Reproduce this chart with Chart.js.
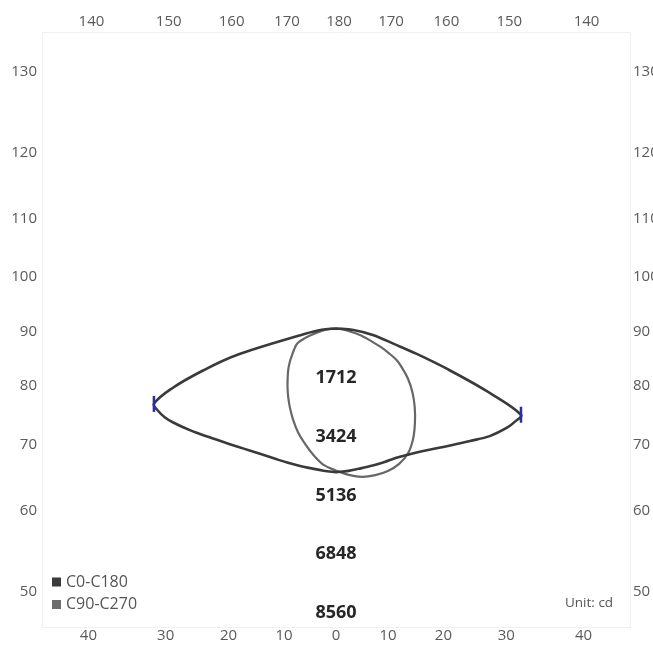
<!DOCTYPE html>
<html><head><meta charset="utf-8">
<script src="https://cdn.jsdelivr.net/npm/chart.js@4"></script>
<style>html,body{margin:0;padding:0;background:#fff}#wrap{width:653px;height:648px;position:relative}</style>
</head><body><div id="wrap"><canvas id="c"></canvas></div>
<script>
// Gamma angles (degrees from nadir) at which intensities are given
const gammaAngles = [0,5,10,15,20,25,30,35,40,45,50,55,60,62.5,65,67.5,70,72.5,75,80,85,90];
// Luminous intensity (cd) per C-plane half
const c0Values   = [4190,4165,4140,4135,4140,4160,4240,4370,4560,4800,5100,5470,5770,5880,5950,4720,3450,2468,1764,1090,510,0];
const c180Values = [4190,4160,4140,4145,4160,4190,4250,4350,4490,4670,4900,5180,5480,5620,5710,5745,5070,4050,3012,937,420,0];
const c90Values  = [4140,4283,4390,4425,4420,4355,4200,3920,3580,3245,2913,2565,2183,1990,1696,1408,1119,900,700,310,150,0];
const c270Values = [4140,4000,3750,3482,3228,2950,2680,2430,2200,1990,1810,1630,1460,1390,1320,1255,1146,965,783,450,220,0];
// Intensity ring labels (cd)
const intensityRings = [1712,3424,5136,6848,8560];
// Angle tick labels
const bottomAngles = [-40,-30,-20,-10,0,10,20,30,40];
const bottomLabels = ['40','30','20','10','0','10','20','30','40'];
const topLabels    = ['140','150','160','170','180','170','160','150','140'];
const sideAngles   = [130,120,110,100,90,80,70,60,50];
const sideLabels   = ['130','120','110','100','90','80','70','60','50'];
const seriesNames  = ['C0-C180','C90-C270'];
const unitLabel    = 'Unit: cd';

const RAD = Math.PI/180;
const X_MAX = 8570, Y_MAX = 8640, Y_MIN = -8700;
const D_TB = 8600, D_SIDE = 9030;

function halfCurve(values, sign, reverse){
  const pts = gammaAngles.map((g,i)=>({x: sign*values[i]*Math.sin(g*RAD), y: -values[i]*Math.cos(g*RAD)}));
  return reverse ? pts.reverse() : pts;
}
const c0c180 = halfCurve(c180Values,-1,true).concat(halfCurve(c0Values,1,false));
const c90c270 = halfCurve(c270Values,-1,true).concat(halfCurve(c90Values,1,false));
const maxIdxLeft = gammaAngles.length-1 - c180Values.indexOf(Math.max(...c180Values));
const maxIdxRight = gammaAngles.length + c0Values.indexOf(Math.max(...c0Values));

const tickFont = {family:'"Open Sans", sans-serif', size:15};
const tickColor = '#5a5a5a';
const borderCol = '#f0f0f0';

function axisX(pos, labels, h, off){
  return {type:'linear', position:pos, min:-X_MAX, max:X_MAX, bounds:'data',
    grid:{display:false, drawTicks:false}, border:{display:true,color:borderCol},
    afterBuildTicks:s=>{ s.ticks = bottomAngles.map(a=>({value:D_TB*Math.tan(a*RAD)})); },
    afterFit:s=>{ s.height = h; },
    ticks:{autoSkip:false, maxRotation:0, minRotation:0, padding:pos==='top'?1:0, labelOffset:off,
      color:tickColor, font:tickFont, callback:(v,i)=>labels[i]}};
}
function axisY(pos, w, pad){
  return {type:'linear', position:pos, min:Y_MIN, max:Y_MAX, bounds:'data',
    grid:{display:false, drawTicks:false}, border:{display:true,color:borderCol},
    afterBuildTicks:s=>{ s.ticks = sideAngles.map(a=>({value:D_SIDE*Math.tan((a-90)*RAD)})); },
    afterFit:s=>{ s.width = w; },
    ticks:{autoSkip:false, padding:pad, labelOffset:3, color:tickColor, font:tickFont, callback:(v,i)=>sideLabels[i]}};
}

const overlay = {
  id:'overlay',
  afterDatasetsDraw(chart){
    const {ctx, chartArea:a, scales:{x,y}} = chart;
    ctx.save();
    ctx.font = 'bold 18px "Open Sans", sans-serif';
    ctx.fillStyle = '#262626';
    ctx.textAlign = 'center'; ctx.textBaseline = 'alphabetic';
    intensityRings.forEach(v=>ctx.fillText(String(v), x.getPixelForValue(0), y.getPixelForValue(-v)-4));
    ctx.font = '16px "Open Sans", sans-serif';
    ctx.textAlign = 'left'; ctx.textBaseline = 'middle';
    chart.data.datasets.forEach((ds,i)=>{
      const cy = a.bottom - 45 + i*22.5;
      ctx.fillStyle = ds.legendColor;
      ctx.fillRect(a.left+10, cy-4.5, 9, 9);
      ctx.fillStyle = '#555';
      ctx.fillText(ds.label, a.left+24, cy);
    });
    ctx.font = '13.5px "Open Sans", sans-serif';
    ctx.fillText(unitLabel, a.right-65, a.bottom-24);
    ctx.restore();
  }
};

new Chart(document.getElementById('c'), {
  type:'scatter',
  data:{datasets:[
    {label:seriesNames[0], data:c0c180, showLine:true, tension:0.35, borderColor:'#3a3a3a', borderWidth:2.6,
     legendColor:'#3a3a3a', fill:false,
     pointStyle:'line', rotation:90,
     pointRadius:c=>(c.dataIndex===maxIdxLeft||c.dataIndex===maxIdxRight)?8:0,
     pointBorderColor:'#2b2bb0', pointBorderWidth:2.5, pointHoverRadius:0},
    {label:seriesNames[1], data:c90c270, showLine:true, tension:0.35, borderColor:'#676767', borderWidth:2.2,
     legendColor:'#6c6c6c', fill:false, pointRadius:0, pointHoverRadius:0}
  ]},
  options:{
    responsive:true, maintainAspectRatio:false, animation:false,
    layout:{padding:0},
    plugins:{legend:{display:false}, tooltip:{enabled:false}},
    scales:{
      x: axisX('bottom', bottomLabels, 21, 0),
      xTop: axisX('top', topLabels, 32, 3),
      y: axisY('left', 42, 5),
      yRight: axisY('right', 23, 3)
    }
  },
  plugins:[overlay]
});
</script></body></html>
